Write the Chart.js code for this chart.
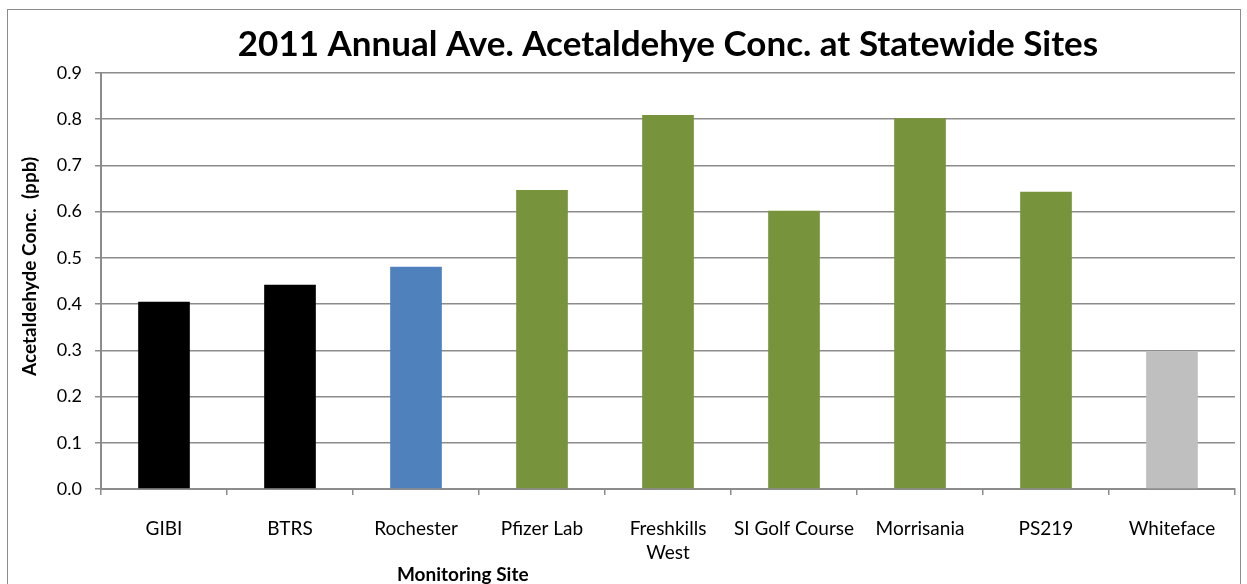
<!DOCTYPE html>
<html>
<head>
<meta charset="utf-8">
<script src="https://cdn.jsdelivr.net/npm/chart.js"></script>
<style>
  body { margin: 0; background: #fff; }
  #frame { position: absolute; left: 7px; top: 9px; width: 1232px; height: 600px; border: 1px solid #8c8c8c; }
  canvas { display: block; }
</style>
</head>
<body>
<div id="frame"><canvas id="myChart" width="1232" height="580"></canvas></div>
<script>
// site names and 2011 annual average acetaldehyde (ppb)
var sites = ['GIBI', 'BTRS', 'Rochester', 'Pfizer Lab', ['Freshkills', 'West'], 'SI Golf Course', 'Morrisania', 'PS219', 'Whiteface'];
var conc = [0.405, 0.442, 0.481, 0.647, 0.809, 0.602, 0.802, 0.643, 0.297];
var yTicks = [0, 0.1, 0.2, 0.3, 0.4, 0.5, 0.6, 0.7, 0.8, 0.9];

var barColors = ['#000000', '#000000', '#4F81BD', '#77933C', '#77933C', '#77933C', '#77933C', '#77933C', '#BFBFBF'];
var fontFam = 'Lato, "Open Sans", sans-serif';
var gridCol = '#8c8c8c';

// axis titles are not centred on the plot in the original, so draw them by hand
var axisTitles = {
    id: 'axisTitles',
    afterDraw: function (chart) {
        var c = chart.ctx, a = chart.chartArea;
        c.save();
        c.fillStyle = '#000';
        c.font = 'bold 19px ' + fontFam;
        c.textAlign = 'center';
        c.textBaseline = 'middle';
        c.fillText('Monitoring Site', a.left + (a.right - a.left) * 0.319, 565);
        c.translate(22, a.top + (a.bottom - a.top) * 0.465);
        c.rotate(-Math.PI / 2);
        c.fillText('Acetaldehyde Conc.  (ppb)', 0, 0);
        c.restore();
    }
};

const ctx = document.getElementById('myChart').getContext('2d');
const myChart = new Chart(ctx, {
    type: 'bar',
    data: {
        labels: sites,
        datasets: [{
            label: 'Acetaldehyde',
            data: conc,
            backgroundColor: barColors,
            borderWidth: 0,
            barPercentage: 0.41,
            categoryPercentage: 1
        }]
    },
    plugins: [axisTitles],
    options: {
        responsive: false,
        animation: false,
        layout: { padding: { left: 0, right: 5, top: 0, bottom: 0 } },
        plugins: {
            legend: { display: false },
            tooltip: { enabled: false },
            title: {
                display: true,
                fullSize: false,
                text: '2011 Annual Ave. Acetaldehye Conc. at Statewide Sites',
                color: '#000',
                font: { family: fontFam, size: 35, weight: 'bold' },
                padding: { top: 14, bottom: 7 }
            }
        },
        scales: {
            x: {
                grid: { drawOnChartArea: false, drawTicks: true, tickLength: 6, color: gridCol, lineWidth: 1.5 },
                border: { color: gridCol, width: 2 },
                ticks: { color: '#000', font: { family: fontFam, size: 19, lineHeight: 1.26 }, padding: 22, maxRotation: 0, autoSkip: false },
                afterFit: function (scale) { scale.height = 101; }
            },
            y: {
                min: 0,
                max: 0.9,
                afterBuildTicks: function (scale) {
                    scale.ticks = yTicks.map(function (v) { return { value: v }; });
                },
                grid: { color: gridCol, lineWidth: 1.5, tickLength: 6 },
                border: { color: gridCol, width: 2 },
                ticks: {
                    color: '#000',
                    font: { family: fontFam, size: 18 },
                    padding: 13,
                    callback: function (v) { return Number(v).toFixed(1); }
                },
                afterFit: function (scale) { scale.width = 93; }
            }
        }
    }
});
</script>
</body>
</html>
